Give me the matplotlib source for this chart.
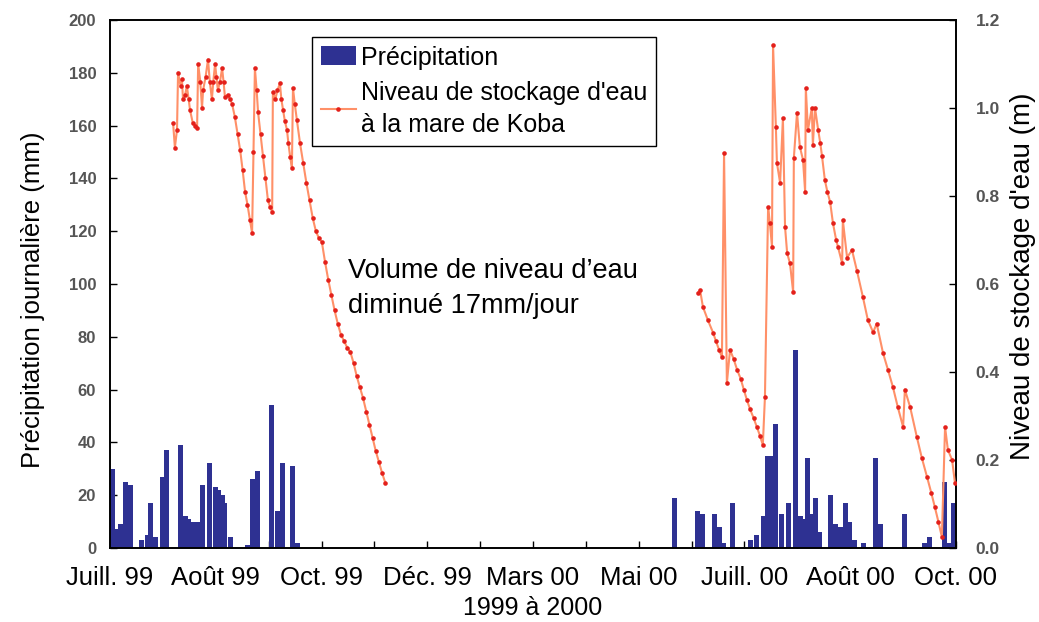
import matplotlib
matplotlib.use("Agg")
import matplotlib.pyplot as plt
from matplotlib.ticker import MultipleLocator

plt.rcParams['font.family'] = ['Liberation Sans', 'DejaVu Sans']

# axe x : jours depuis début juillet 99 (échelle comprimée du graphique d'origine)
tick_pos = [0, 30, 60, 90, 120, 150, 180, 210, 240]
tick_labels = ["Juill. 99", "Août 99", "Oct. 99", "Déc. 99", "Mars 00",
               "Mai 00", "Juill. 00", "Août 00", "Oct. 00"]

# précipitation journalière (mm)
rain_day = [0.7, 2.0, 3.1, 4.3, 5.7, 8.8, 10.5, 11.6, 13.0, 14.8, 15.9,
            19.9, 21.3, 22.4, 23.5, 24.7, 26.2, 28.1, 29.9, 30.9, 31.8, 32.6, 34.3,
            38.9, 40.4, 41.8, 45.8, 47.5, 48.9, 51.8, 53.2,
            160.1, 166.7, 168.1, 171.5, 172.9, 174.0, 176.5, 181.6, 183.4,
            185.4, 186.5, 187.8, 188.8, 190.5, 192.5, 194.5, 195.8, 196.9,
            198.0, 199.1, 200.2, 201.4, 204.4, 205.8, 207.2, 208.7, 209.9,
            211.2, 213.8, 217.2, 218.6, 225.4, 231.1, 232.5, 236.7, 237.9, 239.3]
rain_mm = [30, 7, 9, 25, 24, 3, 5, 17, 4, 27, 37,
           39, 12, 11, 10, 10, 24, 32, 23, 22, 20, 17, 4,
           1, 26, 29, 54, 14, 32, 31, 2,
           19, 14, 13, 13, 8, 2, 17, 3, 5,
           12, 35, 35, 47, 13, 17, 75, 12, 11,
           34, 13, 19, 6, 20, 9, 8, 17, 10,
           3, 2, 34, 9, 13, 2, 4, 25, 2, 17]

# niveau de stockage d'eau à la mare de Koba (m), saison 1999
lvl99_day = [17.9, 18.4, 19.0, 19.3, 20.0, 20.4, 20.7, 21.3, 21.8, 22.3, 22.7,
             23.5, 24.2, 24.7, 25.0, 25.6, 26.1, 26.4, 27.1, 27.8, 28.3, 28.9,
             29.3, 29.8, 30.2, 30.6, 31.2, 31.8, 32.2, 32.6, 33.4, 34.0, 34.6,
             35.4, 36.2, 36.9, 37.6, 38.3, 39.0, 39.7, 40.3, 40.7, 41.1, 41.6,
             42.0, 42.7, 43.4, 44.1, 44.8, 45.4, 46.0, 46.2, 46.9, 47.5, 48.2,
             48.6, 49.1, 49.6, 50.2, 50.6, 51.1, 51.6, 51.9, 52.4, 53.0, 53.9,
             54.8, 55.7, 56.6, 57.5, 58.4, 59.2, 60.1, 61.0, 61.9, 62.8, 63.7,
             64.6, 65.5, 66.4, 67.3, 68.2, 69.1, 70.0, 70.9, 71.8, 72.7, 73.6,
             74.5, 75.4, 76.3, 77.2, 78.1]
lvl99_m = [0.965, 0.91, 0.95, 1.08, 1.05, 1.065, 1.02, 1.03, 1.05, 1.02, 0.995,
           0.965, 0.96, 0.955, 1.10, 1.06, 1.00, 1.04, 1.07, 1.11, 1.06, 1.02,
           1.06, 1.10, 1.07, 1.04, 1.06, 1.09, 1.06, 1.025, 1.03, 1.02, 1.01,
           0.98, 0.94, 0.905, 0.86, 0.81, 0.78, 0.745, 0.716, 0.90, 1.09, 1.04,
           0.99, 0.94, 0.89, 0.84, 0.79, 0.775, 0.764, 1.036, 1.02, 1.04, 1.056,
           1.02, 0.995, 0.97, 0.95, 0.92, 0.889, 0.864, 1.045, 1.01, 0.973, 0.92,
           0.875, 0.83, 0.79, 0.75, 0.72, 0.705, 0.695, 0.65, 0.61, 0.575, 0.54,
           0.51, 0.485, 0.47, 0.455, 0.445, 0.42, 0.39, 0.365, 0.34, 0.31, 0.28,
           0.25, 0.22, 0.195, 0.17, 0.148]

# saison 2000
lvl00_day = [166.8, 167.4, 168.2, 169.6, 171.1, 171.9, 172.8, 173.6, 174.2, 175.0,
             175.9, 176.9, 177.9, 178.9, 179.8, 180.7, 181.6, 182.6, 183.5, 184.4,
             185.2, 185.8, 186.7, 187.2, 187.8, 188.1, 188.9, 189.2, 190.1, 190.9,
             191.5, 192.1, 192.9, 193.8, 194.0, 194.9, 195.7, 196.6, 197.2, 197.4,
             198.0, 199.1, 199.4, 200.0, 200.9, 201.5, 202.0, 202.8, 203.5, 204.3,
             205.1, 206.0, 206.5, 207.7, 207.9, 209.1, 210.5, 211.9, 213.6, 215.0,
             216.5, 217.5, 219.3, 220.7, 222.1, 223.5, 225.0, 225.5, 227.0, 228.9,
             230.3, 231.8, 233.0, 234.0, 235.0, 236.0, 236.9, 237.7, 238.9, 239.7]
lvl00_m = [0.58, 0.586, 0.548, 0.518, 0.489, 0.47, 0.45, 0.434, 0.897, 0.375,
           0.45, 0.43, 0.405, 0.385, 0.36, 0.336, 0.315, 0.295, 0.275, 0.255,
           0.234, 0.343, 0.775, 0.738, 0.685, 1.143, 0.957, 0.875, 0.83, 0.977,
           0.73, 0.67, 0.647, 0.582, 0.886, 0.989, 0.912, 0.882, 0.81, 1.045,
           0.95, 1.0, 0.916, 1.0, 0.95, 0.92, 0.89, 0.836, 0.81, 0.786,
           0.738, 0.70, 0.685, 0.647, 0.745, 0.66, 0.677, 0.63, 0.57, 0.518,
           0.49, 0.51, 0.443, 0.405, 0.366, 0.32, 0.275, 0.36, 0.32, 0.252,
           0.205, 0.161, 0.125, 0.093, 0.06, 0.025, 0.275, 0.223, 0.2, 0.148]

BAR_C = "#2e3192"
LINE_C = "#ff9068"
MARK_C = "#e3201b"

fig = plt.figure(figsize=(10.39, 6.22), dpi=100)
ax = fig.add_axes([0.1059, 0.119, 0.8142, 0.849])

bars = ax.bar(rain_day, rain_mm, width=1.4, color=BAR_C, edgecolor="none", zorder=2)
ax.set_xlim(0, 240)
ax.set_ylim(0, 200)
ax.set_xticks(tick_pos)
ax.set_xticklabels(tick_labels, fontsize=18.5)
ax.xaxis.set_minor_locator(MultipleLocator(15))
ax.set_yticks(range(0, 201, 20))
ax.tick_params(axis="x", which="both", direction="in", length=5, pad=13, width=1)
ax.tick_params(axis="y", direction="in", length=5, pad=10, width=1,
               labelsize=12, labelcolor="#555555")
for t in ax.get_yticklabels():
    t.set_fontweight("bold")
ax.set_xlabel("1999 à 2000", fontsize=18, labelpad=4)
ax.set_ylabel("Précipitation journalière (mm)", fontsize=18.5)
ax.yaxis.set_label_coords(-0.077, 0.47)

ax2 = ax.twinx()
ax2.set_ylim(0, 1.2)
ax2.set_yticks([0.0, 0.2, 0.4, 0.6, 0.8, 1.0, 1.2])
ax2.set_yticklabels(["0.0", "0.2", "0.4", "0.6", "0.8", "1.0", "1.2"])
ax2.tick_params(axis="y", direction="in", length=5, pad=14, width=1,
                labelsize=12.5, labelcolor="#555555")
for t in ax2.get_yticklabels():
    t.set_fontweight("bold")
line_kw = dict(color=LINE_C, lw=1.5, marker="o", ms=3.3, mfc=MARK_C, mec="none", zorder=3)
ln, = ax2.plot(lvl99_day, lvl99_m, **line_kw)
ax2.plot(lvl00_day, lvl00_m, **line_kw)
ax2.set_ylabel("Niveau de stockage d'eau (m)", fontsize=20)
ax2.yaxis.set_label_coords(1.064, 0.515)

for a in (ax, ax2):
    for s in a.spines.values():
        s.set_color("black")
        s.set_linewidth(1.2)

ax.text(67.5, 110, "Volume de niveau d’eau\ndiminué 17mm/jour", fontsize=19.5,
        ha="left", va="top", linespacing=1.45)

leg = ax2.legend([bars, ln], ["Précipitation", "Niveau de stockage d'eau\nà la mare de Koba"],
                 loc="upper left", bbox_to_anchor=(0.239, 0.968), borderaxespad=0,
                 fontsize=18, frameon=True, fancybox=False, framealpha=1,
                 edgecolor="black", borderpad=0.35, handlelength=1.4,
                 handleheight=0.8, handletextpad=0.2, labelspacing=0.45)
for t in leg.get_texts():
    t.set_linespacing(1.45)
leg.get_frame().set_linewidth(1.0)

fig.savefig("out.png", dpi=100, facecolor="white")
